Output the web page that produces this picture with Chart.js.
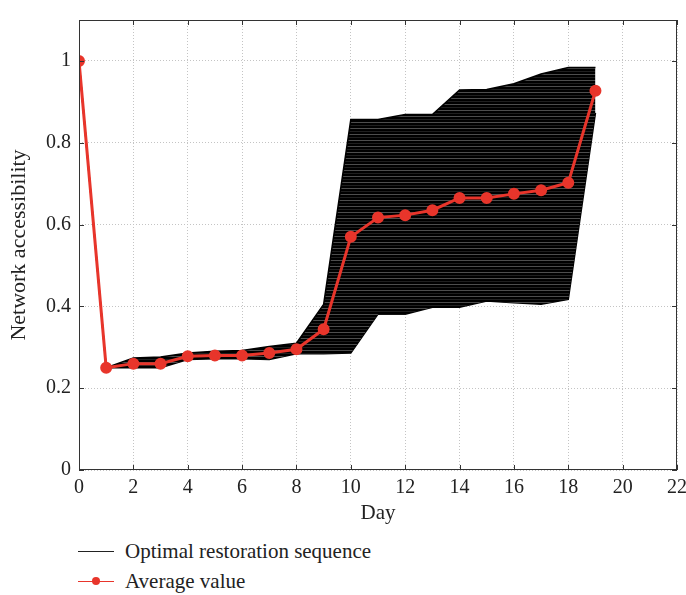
<!DOCTYPE html>
<html>
<head>
<meta charset="utf-8">
<script src="https://cdn.jsdelivr.net/npm/chart.js@4.4.1/dist/chart.umd.min.js"></script>
<style>
  html, body { margin: 0; padding: 0; background: #fff; }
  #wrap { position: relative; width: 686px; height: 595px; overflow: hidden; }
  #chart { position: absolute; left: 0; top: 0; }
  .legend { position: absolute; left: 78px; top: 536px; font-family: "Liberation Serif", serif; font-size: 21px; color: #222; }
  .legend-row { display: flex; align-items: center; height: 30px; }
  .legend-row i { position: relative; display: inline-block; width: 36px; height: 0; margin-right: 11px; }
  .legend-row i.seq { border-top: 1.5px solid #222; }
  .legend-row i.avg { border-top: 1.5px solid #e8352b; }
  .legend-row i.avg::after { content: ''; position: absolute; left: 14px; top: -5px; width: 8px; height: 8px; border-radius: 50%; background: #e8352b; }
</style>
</head>
<body>
<div id="wrap">
  <canvas id="chart" width="686" height="530"></canvas>
  <div class="legend">
    <div class="legend-row"><i class="seq"></i>Optimal restoration sequence</div>
    <div class="legend-row"><i class="avg"></i>Average value</div>
  </div>
</div>
<script>
const days = [0, 1, 2, 3, 4, 5, 6, 7, 8, 9, 10, 11, 12, 13, 14, 15, 16, 17, 18, 19];
// envelope of all optimal restoration sequences
const seqUpper = [1, 0.25, 0.274, 0.276, 0.286, 0.29, 0.292, 0.302, 0.31, 0.405, 0.857, 0.857, 0.869, 0.869, 0.929, 0.93, 0.944, 0.968, 0.984, 0.984];
const seqLower = [1, 0.25, 0.25, 0.25, 0.27, 0.272, 0.272, 0.27, 0.284, 0.284, 0.286, 0.381, 0.381, 0.398, 0.398, 0.413, 0.409, 0.405, 0.417, 0.873];
const averageValue = [1, 0.25, 0.26, 0.26, 0.278, 0.28, 0.28, 0.286, 0.295, 0.344, 0.57, 0.617, 0.623, 0.635, 0.665, 0.665, 0.675, 0.684, 0.702, 0.927];
const xTicks = [0, 2, 4, 6, 8, 10, 12, 14, 16, 18, 20, 22];
const yTicks = [0, 0.2, 0.4, 0.6, 0.8, 1];

const FONT = '"Liberation Serif", "Times New Roman", serif';
const toPoints = (vals) => vals.map((v, i) => ({ x: days[i], y: v }));

// streaky fill: many overlapping black sequences with thin gaps between them
function streakPattern() {
  const c = document.createElement('canvas');
  c.width = 8;
  c.height = 6;
  const g = c.getContext('2d');
  g.fillStyle = '#000';
  g.fillRect(0, 0, 8, 6);
  g.fillStyle = 'rgba(255,255,255,0.3)';
  g.fillRect(0, 2, 8, 1);
  g.fillStyle = 'rgba(255,255,255,0.12)';
  g.fillRect(0, 5, 8, 1);
  return g.createPattern(c, 'repeat');
}

// box around the plot with inward tick marks
const framePlugin = {
  id: 'frame',
  afterDraw(chart) {
    const { ctx, chartArea: a, scales } = chart;
    ctx.save();
    ctx.strokeStyle = '#333';
    ctx.lineWidth = 1;
    ctx.strokeRect(a.left + 0.5, a.top + 0.5, a.right - a.left - 1, a.bottom - a.top - 1);
    ctx.beginPath();
    xTicks.forEach((t) => {
      const x = Math.round(scales.x.getPixelForValue(t)) + 0.5;
      ctx.moveTo(x, a.bottom); ctx.lineTo(x, a.bottom - 5);
      ctx.moveTo(x, a.top); ctx.lineTo(x, a.top + 5);
    });
    yTicks.forEach((t) => {
      const y = Math.round(scales.y.getPixelForValue(t)) + 0.5;
      ctx.moveTo(a.left, y); ctx.lineTo(a.left + 5, y);
      ctx.moveTo(a.right, y); ctx.lineTo(a.right - 5, y);
    });
    ctx.stroke();
    ctx.restore();
  },
};

new Chart(document.getElementById('chart'), {
  type: 'line',
  data: {
    datasets: [
      {
        label: 'Average value',
        data: toPoints(averageValue),
        borderColor: '#e8352b',
        backgroundColor: '#e8352b',
        borderWidth: 3,
        pointRadius: 4.5,
        pointHoverRadius: 4.5,
        fill: false,
        order: 0,
      },
      {
        label: 'Optimal restoration sequence',
        data: toPoints(seqUpper),
        borderColor: '#000',
        backgroundColor: streakPattern(),
        borderWidth: 1.5,
        pointRadius: 0,
        fill: 2,
        order: 1,
      },
      {
        label: 'Optimal restoration sequence (lower)',
        data: toPoints(seqLower),
        borderColor: '#000',
        borderWidth: 1.5,
        pointRadius: 0,
        fill: false,
        order: 1,
      },
    ],
  },
  options: {
    responsive: false,
    animation: false,
    events: [],
    layout: { padding: { top: 10, right: 9, left: 0, bottom: 0 } },
    plugins: { legend: { display: false }, tooltip: { enabled: false } },
    scales: {
      x: {
        type: 'linear',
        min: 0,
        max: 22,
        afterFit: (s) => { s.height = 60; s.paddingLeft = 0; s.paddingRight = 0; },
        afterBuildTicks: (s) => { s.ticks = xTicks.map((v) => ({ value: v })); },
        ticks: { color: '#222', padding: 6, font: { family: FONT, size: 20 } },
        grid: { color: '#c4c4c4', drawTicks: false },
        border: { display: false, dash: [1, 2] },
        title: { display: true, text: 'Day', color: '#222', padding: { top: 0 }, font: { family: FONT, size: 21 } },
      },
      y: {
        min: 0,
        max: 1.1,
        afterFit: (s) => { s.width = 79; },
        afterBuildTicks: (s) => { s.ticks = yTicks.map((v) => ({ value: v })); },
        ticks: { color: '#222', padding: 8, font: { family: FONT, size: 20 }, callback: (v) => String(Math.round(v * 10) / 10) },
        grid: { color: '#c4c4c4', drawTicks: false },
        border: { display: false, dash: [1, 2] },
        title: { display: true, text: 'Network accessibility', color: '#222', padding: { top: 6, bottom: 0 }, font: { family: FONT, size: 22 } },
      },
    },
  },
  plugins: [framePlugin],
});
</script>
</body>
</html>
